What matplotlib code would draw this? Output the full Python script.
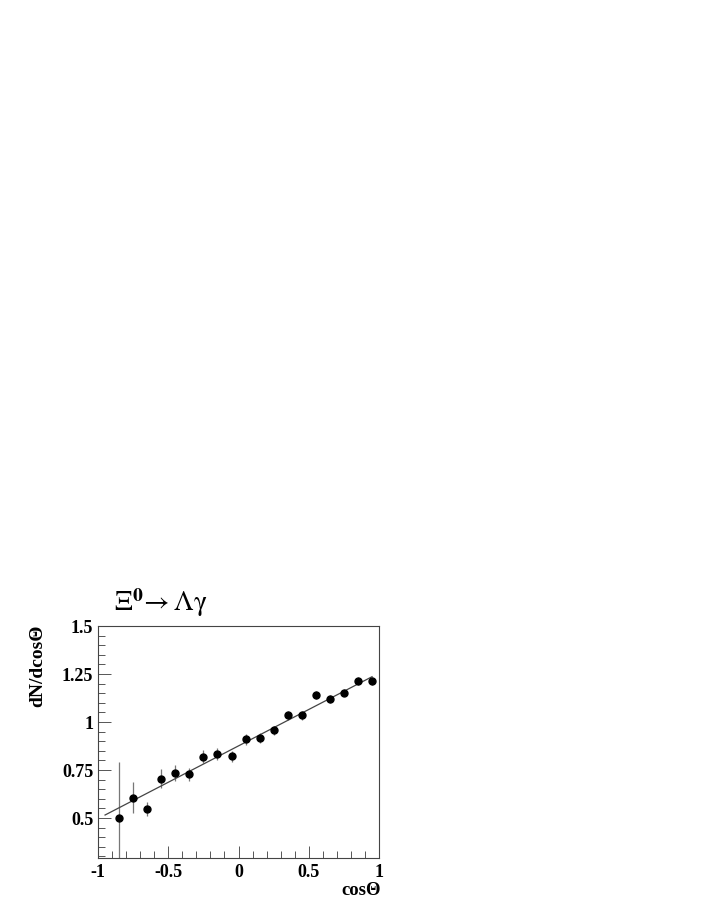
import numpy as np
import matplotlib.pyplot as plt
from matplotlib.ticker import MultipleLocator

# bin centres in cos(theta) and the measured dN/dcos(theta)
cos_theta = [-0.85, -0.75, -0.65, -0.55, -0.45, -0.35, -0.25, -0.15, -0.05,
             0.05, 0.15, 0.25, 0.35, 0.45, 0.55, 0.65, 0.75, 0.85, 0.95]
dn = [0.50, 0.606, 0.547, 0.705, 0.734, 0.728, 0.82, 0.833, 0.821,
      0.911, 0.917, 0.957, 1.035, 1.035, 1.14, 1.12, 1.153, 1.213, 1.213]
err = [0.29, 0.08, 0.035, 0.05, 0.04, 0.035, 0.035, 0.03, 0.03,
       0.028, 0.027, 0.022, 0.025, 0.022, 0.022, 0.02, 0.02, 0.02, 0.02]

# straight-line fit a + b*cos(theta)
fit_a = 0.876
fit_b = 0.379

plt.rcParams['font.family'] = ['Liberation Serif', 'DejaVu Serif']

fig = plt.figure(figsize=(7.14, 9.24), dpi=100)
ax = fig.add_axes([0.1373, 0.0714, 0.3936, 0.2511])

ax.errorbar(cos_theta, dn, yerr=err, fmt='o', color='black', ms=5,
            ecolor='#777777', elinewidth=0.9, capsize=0)
xf = np.array([-0.95, 0.95])
ax.plot(xf, fit_a + fit_b * xf, color='#444444', lw=0.9)

ax.set_xlim(-1, 1)
ax.set_ylim(0.292, 1.5)
ax.set_xticks([-1, -0.5, 0, 0.5, 1])
ax.set_xticklabels(['-1', '-0.5', '0', '0.5', '1'])
ax.set_yticks([0.5, 0.75, 1, 1.25, 1.5])
ax.set_yticklabels(['0.5', '0.75', '1', '1.25', '1.5'])
ax.xaxis.set_minor_locator(MultipleLocator(0.1))
ax.yaxis.set_minor_locator(MultipleLocator(0.05))
ax.tick_params(which='both', direction='in', top=False, right=False,
               labelsize=13, width=0.7, color='#555555')
ax.tick_params(which='major', length=9)
ax.tick_params(which='minor', length=5)
ax.tick_params(axis='x', pad=4)
for lab in ax.get_xticklabels() + ax.get_yticklabels():
    lab.set_fontweight('bold')
for s in ax.spines.values():
    s.set_linewidth(0.8)
    s.set_color('#444444')

fig.text(0.0532, 0.3236, 'dN/dcos\u0398', rotation=90, ha='center',
         va='top', fontsize=14, fontweight='bold')
fig.text(0.534, 0.0365, 'cos\u0398', ha='right', va='center', fontsize=13.5,
         fontweight='bold')
fig.text(0.159, 0.3474, r'$\mathrm{\Xi}^{\mathbf{0}}\!\rightarrow\mathrm{\Lambda\gamma}$',
         ha='left', va='center', fontsize=20, fontweight='normal',
         math_fontfamily='stix')

fig.savefig('out.png', dpi=100)
